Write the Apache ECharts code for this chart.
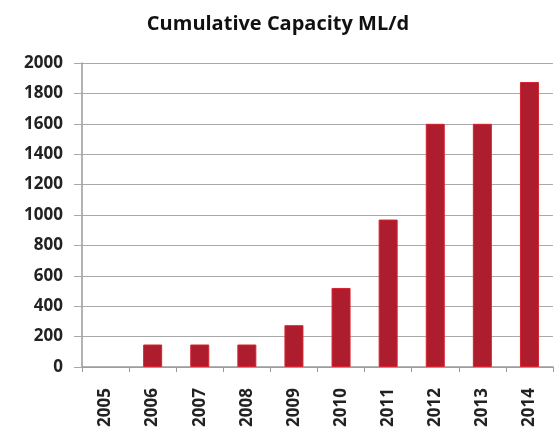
<!DOCTYPE html>
<html>
<head>
<meta charset="utf-8">
<script src="https://cdn.jsdelivr.net/npm/echarts@6/dist/echarts.min.js"></script>
<style>
  html, body { margin: 0; padding: 0; background: #fff; }
  #chart { width: 555px; height: 433px; }
</style>
</head>
<body>
<div id="chart"></div>
<script>
// Cumulative desalination capacity by year (ML/d)
const years = ['2005', '2006', '2007', '2008', '2009', '2010', '2011', '2012', '2013', '2014'];
const capacity = [0, 148, 148, 148, 275, 520, 970, 1600, 1600, 1875];
const yTicks = { min: 0, max: 2000, step: 200 };

const chart = echarts.init(document.getElementById('chart'));
const labelFont = { fontFamily: 'Open Sans', fontWeight: 'bold', fontSize: 17, color: '#222' };

chart.setOption({
  animation: false,
  title: {
    text: 'Cumulative Capacity ML/d',
    left: 273,
    textAlign: 'center',
    top: 9,
    textStyle: { fontFamily: 'Open Sans', fontWeight: 'bold', fontSize: 20, color: '#111' }
  },
  grid: { left: 82, right: 2, top: 63, bottom: 66, containLabel: false },
  xAxis: {
    type: 'category',
    data: years,
    axisLine: { lineStyle: { color: '#999', width: 1.5 } },
    axisTick: { show: true, length: 5, lineStyle: { color: '#999' } },
    axisLabel: Object.assign({ rotate: 90, margin: 21 }, labelFont)
  },
  yAxis: {
    type: 'value',
    min: yTicks.min,
    max: yTicks.max,
    interval: yTicks.step,
    axisLine: { show: true, lineStyle: { color: '#999', width: 1.5 } },
    axisTick: { show: true, length: 8, lineStyle: { color: '#aaa' } },
    splitLine: { lineStyle: { color: '#aaa', width: 1.2 } },
    axisLabel: Object.assign({ margin: 19, formatter: v => String(v) }, labelFont)
  },
  series: [{
    type: 'bar',
    // a zero-height bar gets no outline
    data: capacity.map(v => (v === 0 ? { value: v, itemStyle: { borderWidth: 0 } } : v)),
    barWidth: 19,
    itemStyle: { color: '#ad1d2d', borderColor: '#d8222f', borderWidth: 1 }
  }]
});
</script>
</body>
</html>
